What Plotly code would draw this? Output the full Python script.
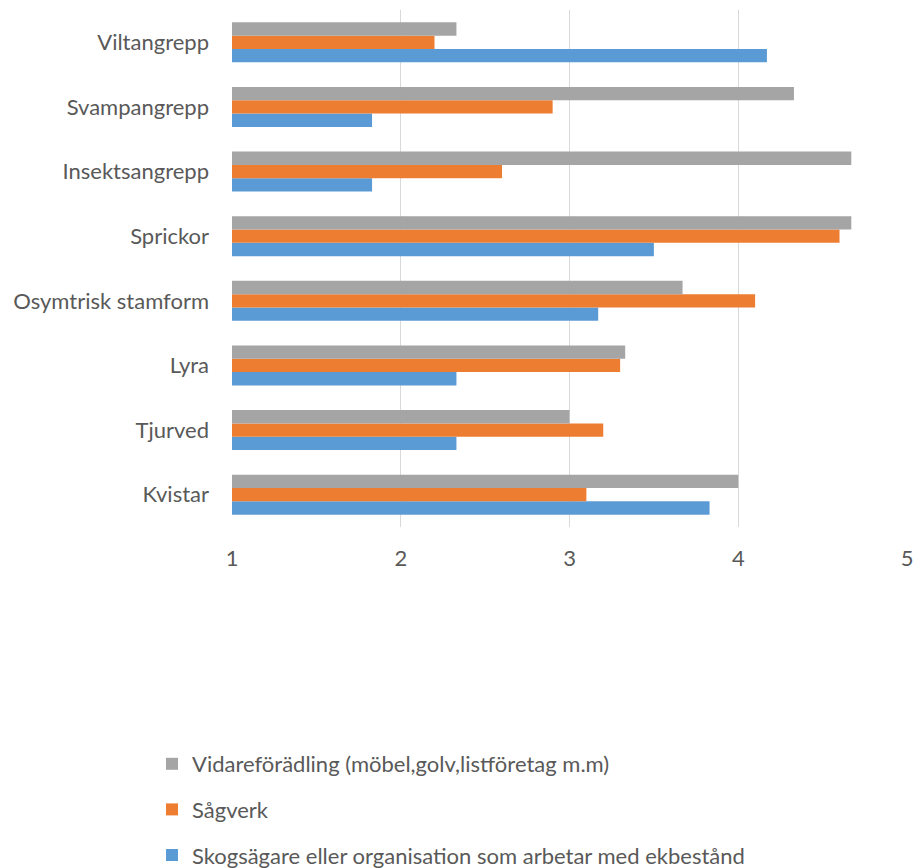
import plotly.graph_objects as go

categories = ["Kvistar", "Tjurved", "Lyra", "Osymtrisk stamform", "Sprickor",
              "Insektsangrepp", "Svampangrepp", "Viltangrepp"]
skogsagare = [3.83, 2.33, 2.33, 3.17, 3.5, 1.83, 1.83, 4.17]
sagverk = [3.1, 3.2, 3.3, 4.1, 4.6, 2.6, 2.9, 2.2]
vidareforadling = [4.0, 3.0, 3.33, 3.67, 4.67, 4.67, 4.33, 2.33]
series_names = ["Skogsägare eller organisation som arbetar med ekbestånd",
                "Sågverk",
                "Vidareförädling (möbel,golv,listföretag m.m)"]
tick_vals = [1, 2, 3, 4, 5]

colors = ["#5B9BD5", "#ED7D31", "#A5A5A5"]
FONT = "Lato"
TXT = "#595959"

fig = go.Figure()
for i, (name, vals) in enumerate(zip(series_names, [skogsagare, sagverk, vidareforadling])):
    fig.add_trace(go.Bar(
        y=categories, x=vals, name=name, orientation="h",
        marker=dict(color=colors[i], line=dict(width=0)),
        legendgroup=f"g{i}", legendrank=3 - i,
    ))

fig.update_layout(
    width=915, height=868,
    margin=dict(l=232, r=8, t=10, b=341, autoexpand=False),
    paper_bgcolor="white", plot_bgcolor="white",
    barmode="group", bargap=0.38, bargroupgap=0,
    font=dict(family=FONT, color=TXT, size=22),
    xaxis=dict(range=[1, 5], tickvals=tick_vals, showgrid=True,
               gridcolor="#D9D9D9", gridwidth=1.3, zeroline=False,
               showline=False, ticks="", ticklabelstandoff=16,
               tickfont=dict(size=22, color=TXT, family=FONT)),
    yaxis=dict(type="category", categoryorder="array", categoryarray=categories,
               showgrid=False, zeroline=False, showline=False, ticks="",
               ticklabelstandoff=22,
               tickfont=dict(size=22, color=TXT, family=FONT)),
    legend=dict(xref="container", yref="container", x=152 / 915, y=1 - 743 / 868,
                xanchor="left", yanchor="top", traceorder="grouped",
                tracegroupgap=14, font=dict(size=22, color=TXT, family=FONT),
                itemwidth=30, bgcolor="rgba(0,0,0,0)"),
    showlegend=True,
)

fig.write_html("out.html")
